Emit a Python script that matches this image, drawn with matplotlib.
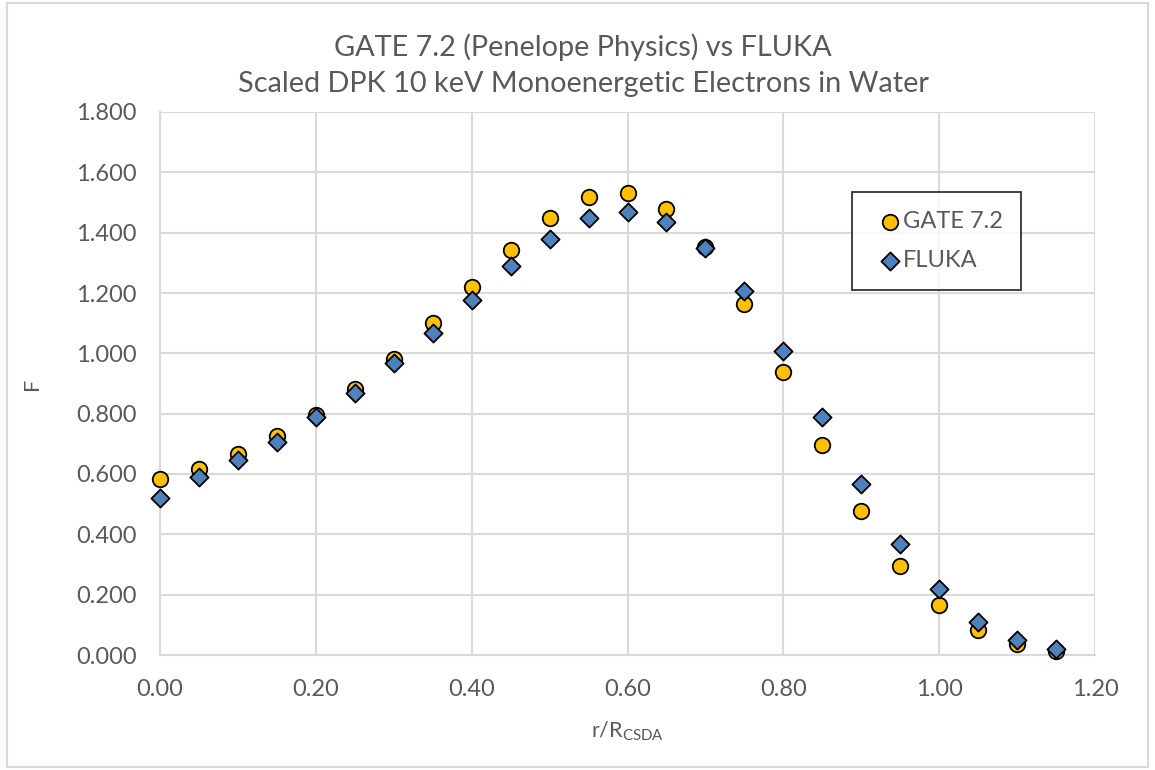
import matplotlib
matplotlib.use("Agg")
import matplotlib.pyplot as plt
from matplotlib.patches import Rectangle

# 数据
r_values = [0.00, 0.05, 0.10, 0.15, 0.20, 0.25, 0.30, 0.35, 0.40, 0.45, 0.50, 0.55,
            0.60, 0.65, 0.70, 0.75, 0.80, 0.85, 0.90, 0.95, 1.00, 1.05, 1.10, 1.15]
gate_f = [0.582, 0.615, 0.665, 0.725, 0.796, 0.881, 0.981, 1.100, 1.221, 1.343, 1.449, 1.517,
          1.533, 1.478, 1.352, 1.164, 0.937, 0.697, 0.477, 0.296, 0.166, 0.083, 0.035, 0.012]
fluka_f = [0.520, 0.589, 0.647, 0.707, 0.790, 0.869, 0.967, 1.068, 1.178, 1.289, 1.379, 1.449,
           1.467, 1.437, 1.348, 1.208, 1.009, 0.789, 0.568, 0.368, 0.220, 0.110, 0.050, 0.019]
x_ticks = [0.00, 0.20, 0.40, 0.60, 0.80, 1.00, 1.20]
y_ticks = [0.0, 0.2, 0.4, 0.6, 0.8, 1.0, 1.2, 1.4, 1.6, 1.8]

# 绘图设置
plt.rcParams["font.family"] = ["Lato", "DejaVu Sans"]
plt.rcParams["mathtext.fontset"] = "custom"
plt.rcParams["mathtext.rm"] = "Lato"
text_color = "#595959"
grid_color = "#d9d9d9"

fig = plt.figure(figsize=(11.55, 7.7), dpi=100)
# 图表外框
fig.patches.append(Rectangle((7 / 1155, 3 / 770), 1141 / 1155, 764 / 770, transform=fig.transFigure,
                             fill=False, edgecolor=grid_color, linewidth=1.5))
ax = fig.add_axes([160 / 1155, 1 - 655 / 770, (1095 - 160) / 1155, (655 - 112) / 770])

ax.scatter(r_values, gate_f, s=125, marker="o", color="#ffc000", edgecolors="black",
           linewidths=1.3, label="GATE 7.2", zorder=3, clip_on=False)
ax.scatter(r_values, fluka_f, s=85, marker="D", color="#4f81bd", edgecolors="black",
           linewidths=1.3, label="FLUKA", zorder=4, clip_on=False)

ax.set_xlim(0, 1.2)
ax.set_ylim(0, 1.8)
ax.set_xticks(x_ticks)
ax.set_yticks(y_ticks)
ax.set_xticklabels([f"{v:.2f}" for v in x_ticks])
ax.set_yticklabels([f"{v:.3f}" for v in y_ticks])
ax.tick_params(axis="both", length=0, labelsize=17, labelcolor=text_color)
ax.tick_params(axis="y", pad=17)
ax.tick_params(axis="x", pad=17)
ax.grid(True, color=grid_color, linewidth=1.5)
ax.set_axisbelow(True)
for side in ["top", "right"]:
    ax.spines[side].set_visible(False)
for side in ["left", "bottom"]:
    ax.spines[side].set_color(grid_color)
    ax.spines[side].set_linewidth(1.5)

ax.set_xlabel(r"r/R$_{\mathrm{CSDA}}$", fontsize=15.5, color=text_color, labelpad=14)
ax.set_ylabel("F", fontsize=15.5, color=text_color, labelpad=24)

# 标题（居中于整个图表区）
fig.text(583 / 1155, 1 - 65 / 770,
         "GATE 7.2 (Penelope Physics) vs FLUKA\nScaled DPK 10 keV Monoenergetic Electrons in Water",
         fontsize=20.8, color=text_color, ha="center", va="center", linespacing=1.45,
         multialignment="center")

leg = ax.legend(loc="upper left", bbox_to_anchor=((852 - 160) / 935, (655 - 192) / 543),
                fontsize=17, frameon=True, fancybox=False, edgecolor="black",
                borderpad=0.8, labelspacing=0.78, handletextpad=-0.3, borderaxespad=0,
                handlelength=1.64)
for t in leg.get_texts():
    t.set_color(text_color)
leg.get_frame().set_linewidth(1.3)

plt.savefig("out.png", dpi=100)
